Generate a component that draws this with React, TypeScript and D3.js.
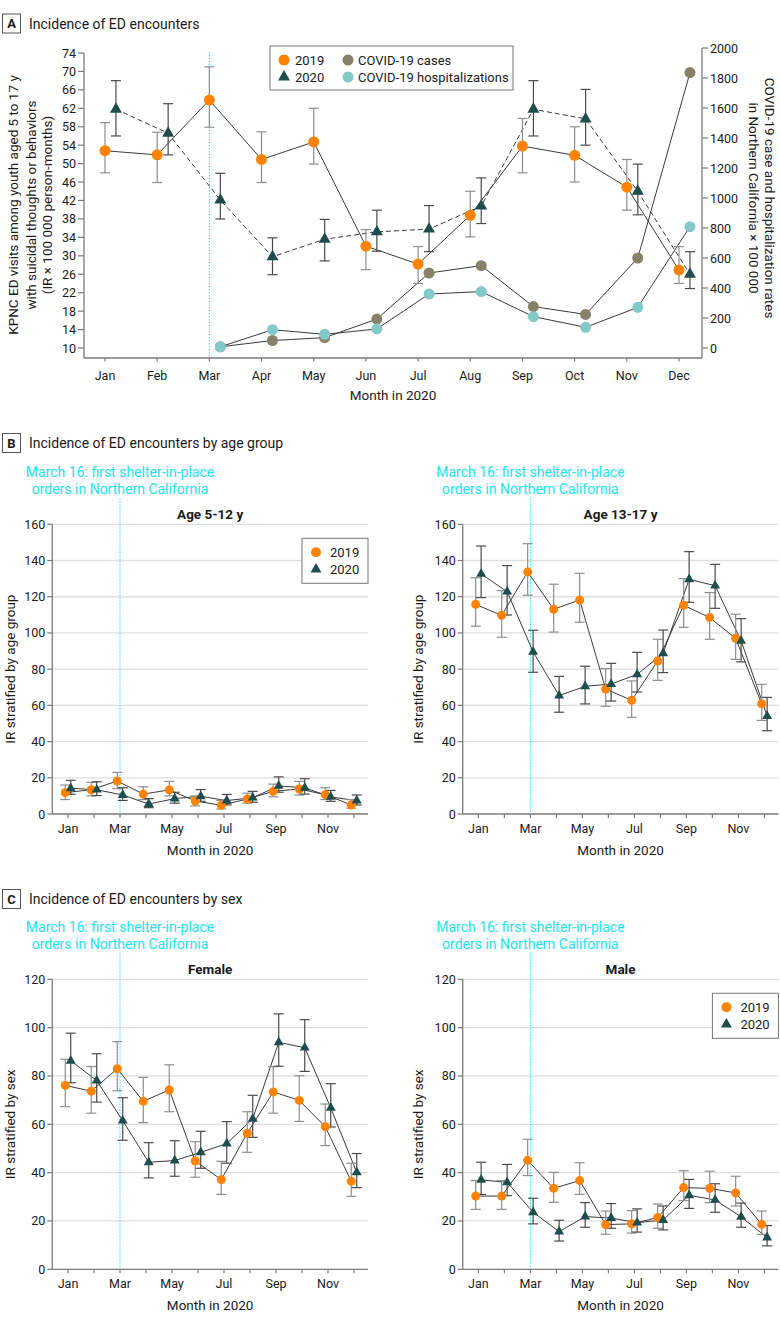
import React from 'react';
import * as d3 from 'd3';

// ---------- DATA ----------
const months = ['Jan', 'Feb', 'Mar', 'Apr', 'May', 'Jun', 'Jul', 'Aug', 'Sep', 'Oct', 'Nov', 'Dec'];
const labeledMonths = ['Jan', 'Mar', 'May', 'Jul', 'Sep', 'Nov'];
const yTicksA = [10, 14, 18, 22, 26, 30, 34, 38, 42, 46, 50, 54, 58, 62, 66, 70, 74];
const yTicksRightA = [0, 200, 400, 600, 800, 1000, 1200, 1400, 1600, 1800, 2000];
const yTicksB = [0, 20, 40, 60, 80, 100, 120, 140, 160];
const yTicksC = [0, 20, 40, 60, 80, 100, 120];

// Panel A: overall incidence
const all2019 = [52.8, 51.9, 63.8, 50.9, 54.7, 32.1, 28.2, 38.8, 53.8, 51.8, 44.9, 26.9];
const all2019Lo = [48.0, 45.9, 57.9, 45.9, 49.9, 27.0, 24.0, 34.1, 48.0, 46.0, 39.9, 24.0];
const all2019Hi = [58.9, 56.8, 71.0, 56.9, 62.0, 35.7, 32.0, 44.0, 59.8, 58.0, 50.9, 32.0];
const all2020 = [61.8, 56.6, 42.1, 29.8, 33.6, 35.2, 35.8, 40.8, 61.8, 59.7, 44.0, 26.0];
const all2020Lo = [56.0, 51.9, 38.0, 25.9, 28.9, 31.0, 30.9, 37.0, 56.0, 54.0, 38.9, 22.9];
const all2020Hi = [68.0, 63.0, 47.9, 33.9, 37.9, 39.9, 40.9, 46.9, 68.0, 66.1, 49.9, 30.9];
const covidMonthIdx = [2, 3, 4, 5, 6, 7, 8, 9, 10, 11];
const covidCases = [8, 50, 69, 193, 500, 549, 276, 224, 600, 1836];
const covidHosp = [8, 122, 91, 127, 360, 376, 209, 138, 271, 809];

// Panel B: age 5-12
const young2019 = [11.8, 13.4, 18.2, 11.0, 13.3, 7.2, 4.8, 8.3, 12.5, 13.8, 10.7, 5.0];
const young2019Lo = [8.0, 10.0, 14.0, 8.0, 10.0, 4.5, 2.8, 6.0, 9.5, 10.5, 8.0, 3.2];
const young2019Hi = [16.0, 17.5, 23.0, 15.0, 18.0, 10.0, 7.5, 11.5, 16.5, 18.0, 14.5, 8.0];
const young2020 = [14.2, 13.4, 10.5, 5.5, 8.5, 9.8, 7.4, 9.0, 15.5, 14.5, 9.4, 7.4];
const young2020Lo = [10.9, 10.2, 7.5, 3.5, 6.0, 7.0, 5.0, 6.5, 12.0, 11.0, 7.0, 5.0];
const young2020Hi = [18.6, 17.8, 14.5, 8.5, 12.0, 13.5, 10.8, 12.5, 20.5, 19.5, 13.0, 10.5];

// Panel B: age 13-17
const teen2019 = [115.8, 109.7, 133.7, 113.1, 118.2, 69.0, 62.8, 84.5, 115.3, 108.5, 97.0, 60.9];
const teen2019Lo = [103.7, 97.6, 120.8, 100.5, 105.9, 59.5, 53.4, 73.8, 103.1, 96.5, 85.4, 51.7];
const teen2019Hi = [130.5, 123.4, 149.3, 126.9, 132.9, 80.3, 73.5, 96.5, 130.0, 122.3, 110.3, 71.6];
const teen2020 = [132.6, 122.8, 89.5, 65.4, 70.5, 71.8, 77.1, 88.7, 129.6, 126.1, 95.6, 54.1];
const teen2020Lo = [119.5, 109.9, 78.3, 56.2, 60.8, 62.4, 67.4, 78.1, 116.9, 113.6, 84.0, 46.0];
const teen2020Hi = [148.0, 137.2, 101.5, 76.0, 81.6, 83.2, 89.3, 101.6, 144.9, 137.9, 107.9, 64.4];

// Panel C: female
const female2019 = [76.1, 73.7, 83.0, 69.5, 74.2, 44.8, 37.1, 56.3, 73.4, 69.9, 59.0, 36.4];
const female2019Lo = [67.3, 64.6, 73.9, 60.7, 65.2, 38.1, 31.0, 48.4, 64.6, 61.2, 51.2, 30.2];
const female2019Hi = [86.9, 83.9, 94.2, 79.4, 84.6, 52.8, 44.7, 65.2, 83.9, 80.1, 68.4, 43.9];
const female2020 = [86.3, 78.1, 61.5, 44.3, 45.0, 48.4, 52.0, 62.3, 93.9, 91.7, 66.8, 40.1];
const female2020Lo = [77.2, 69.2, 53.4, 37.8, 38.5, 41.8, 43.9, 54.6, 84.0, 81.9, 58.9, 33.8];
const female2020Hi = [97.7, 89.2, 71.0, 52.4, 53.2, 57.1, 61.1, 72.0, 105.7, 103.3, 76.8, 47.9];

// Panel C: male
const male2019 = [30.3, 30.3, 45.1, 33.5, 36.7, 18.5, 18.8, 21.4, 33.8, 33.5, 31.6, 18.6];
const male2019Lo = [24.8, 24.8, 38.8, 27.7, 31.0, 14.5, 15.0, 17.0, 28.4, 27.6, 26.2, 14.5];
const male2019Hi = [36.7, 36.7, 53.8, 40.1, 44.1, 24.1, 24.3, 27.0, 40.8, 40.6, 38.5, 24.1];
const male2020 = [37.0, 36.0, 23.6, 15.6, 21.8, 21.2, 19.3, 20.4, 30.6, 28.7, 21.7, 13.1];
const male2020Lo = [31.0, 30.5, 18.8, 11.7, 17.4, 17.0, 15.4, 16.3, 25.2, 23.6, 17.4, 9.7];
const male2020Hi = [44.3, 43.4, 29.4, 20.3, 27.6, 27.2, 25.0, 26.2, 37.2, 35.4, 27.4, 18.1];

// ---------- STYLE ----------
const FONT = 'Roboto, "Liberation Sans", Arial, sans-serif';
const ORANGE = '#ff8300';
const TEAL = '#1f4d4c';
const CASES = '#858269';
const HOSP = '#85c8c9';
const CYAN = '#1ee3f2';
const LINE = '#3a3a3a';
const AXIS = '#7a7a7a';
const GRID = '#dedede';
const ERR19 = '#8e8e8e';
const ERR20 = '#4a4a4a';
const TXT = '#1a1a1a';

const tri = (side: number) => d3.symbol(d3.symbolTriangle, (side * side * Math.sqrt(3)) / 4)() as string;

function ErrBar({ x, y1, y2, color, w = 5 }: { x: number; y1: number; y2: number; color: string; w?: number }) {
  return (
    <g stroke={color} strokeWidth={1.2}>
      <line x1={x} x2={x} y1={y1} y2={y2} />
      <line x1={x - w} x2={x + w} y1={y1} y2={y1} />
      <line x1={x - w} x2={x + w} y1={y2} y2={y2} />
    </g>
  );
}

function Header({ letter, text, y }: { letter: string; text: string; y: number }) {
  return (
    <g fontFamily={FONT}>
      <rect x={2.5} y={y - 9.5} width={18} height={19} fill="white" stroke="#555" strokeWidth={1} />
      <text x={11.5} y={y} textAnchor="middle" dominantBaseline="central" fontSize={13} fontWeight="bold" fill={TXT}>{letter}</text>
      <text x={29} y={y} dominantBaseline="central" fontSize={14} fill={TXT}>{text}</text>
    </g>
  );
}

function PanelA() {
  const x = d3.scaleLinear().domain([0, 11]).range([105, 679]);
  const off = 0.21;
  const yL = d3.scaleLinear().domain([10, 74]).range([348, 53]);
  const yR = d3.scaleLinear().domain([0, 2000]).range([348, 48]);
  const axL = 84, axR = 702, axB = 358;
  const line = d3.line<[number, number]>().x(d => d[0]).y(d => d[1]);
  const p19 = all2019.map((v, i) => [x(i), yL(v)] as [number, number]);
  const p20 = all2020.map((v, i) => [x(i + off), yL(v)] as [number, number]);
  const pc = covidCases.map((v, i) => [x(covidMonthIdx[i] + off), yR(v)] as [number, number]);
  const ph = covidHosp.map((v, i) => [x(covidMonthIdx[i] + off), yR(v)] as [number, number]);
  return (
    <g fontFamily={FONT}>
      <Header letter="A" text="Incidence of ED encounters" y={23.5} />
      <line x1={x(2)} x2={x(2)} y1={52} y2={axB} stroke={CYAN} strokeWidth={1} strokeDasharray="1.5,1.5" />
      <line x1={axL} x2={axL} y1={yL(74)} y2={axB} stroke={AXIS} strokeWidth={1.3} />
      <line x1={axR} x2={axR} y1={yR(2000)} y2={axB} stroke={AXIS} strokeWidth={1.3} />
      <line x1={axL} x2={axR} y1={axB} y2={axB} stroke={AXIS} strokeWidth={1.3} />
      {yTicksA.map(t => (
        <g key={'l' + t}>
          <line x1={axL - 6} x2={axL} y1={yL(t)} y2={yL(t)} stroke={AXIS} strokeWidth={1.2} />
          <text x={axL - 8} y={yL(t)} textAnchor="end" dominantBaseline="central" fontSize={12.5} fill={TXT}>{t}</text>
        </g>
      ))}
      {yTicksRightA.map(t => (
        <g key={'r' + t}>
          <line x1={axR} x2={axR + 6} y1={yR(t)} y2={yR(t)} stroke={AXIS} strokeWidth={1.2} />
          <text x={axR + 8} y={yR(t)} dominantBaseline="central" fontSize={12.5} fill={TXT}>{t}</text>
        </g>
      ))}
      {months.map((m, i) => (
        <g key={m}>
          <line x1={x(i)} x2={x(i)} y1={axB} y2={axB + 3.5} stroke={AXIS} strokeWidth={1.2} />
          <text x={x(i)} y={axB + 17} textAnchor="middle" dominantBaseline="central" fontSize={12.5} fill={TXT}>{m}</text>
        </g>
      ))}
      <text x={(axL + axR) / 2} y={395} textAnchor="middle" dominantBaseline="central" fontSize={13.5} fill={TXT}>Month in 2020</text>
      <g transform={`translate(0,205)`} fontSize={13.5} fill={TXT} textAnchor="middle">
        <text transform="translate(13,0) rotate(-90)" dominantBaseline="central">KPNC ED visits among youth aged 5 to 17 y</text>
        <text transform="translate(30.5,0) rotate(-90)" dominantBaseline="central">with suicidal thoughts or behaviors</text>
        <text transform="translate(47,0) rotate(-90)" dominantBaseline="central">(IR × 100 000 person-months)</text>
      </g>
      <g transform={`translate(0,198)`} fontSize={13.5} fill={TXT} textAnchor="middle">
        <text transform="translate(770,0) rotate(90)" dominantBaseline="central">COVID-19 case and hospitalization rates</text>
        <text transform="translate(753.5,0) rotate(90)" dominantBaseline="central">in Northern California × 100 000</text>
      </g>
      <path d={line(ph) as string} fill="none" stroke={LINE} strokeWidth={1} />
      <path d={line(pc) as string} fill="none" stroke={LINE} strokeWidth={1} />
      <path d={line(p19) as string} fill="none" stroke={LINE} strokeWidth={1} />
      <path d={line(p20) as string} fill="none" stroke={LINE} strokeWidth={1} strokeDasharray="5,3" />
      {all2019.map((v, i) => (
        <ErrBar key={'e19' + i} x={x(i)} y1={yL(all2019Hi[i])} y2={yL(all2019Lo[i])} color={ERR19} />
      ))}
      {all2020.map((v, i) => (
        <ErrBar key={'e20' + i} x={x(i + off)} y1={yL(all2020Hi[i])} y2={yL(all2020Lo[i])} color={ERR20} />
      ))}
      {pc.map((p, i) => <circle key={'c' + i} cx={p[0]} cy={p[1]} r={5.5} fill={CASES} />)}
      {ph.map((p, i) => <circle key={'h' + i} cx={p[0]} cy={p[1]} r={5.5} fill={HOSP} />)}
      {p19.map((p, i) => <circle key={'o' + i} cx={p[0]} cy={p[1]} r={5.5} fill={ORANGE} />)}
      {p20.map((p, i) => <path key={'t' + i} d={tri(12)} transform={`translate(${p[0]},${p[1]})`} fill={TEAL} />)}
      <g>
        <rect x={270} y={46} width={243} height={44} fill="white" stroke="#777" strokeWidth={1} />
        <circle cx={284} cy={60} r={5.5} fill={ORANGE} />
        <text x={295} y={60} dominantBaseline="central" fontSize={13} fill={TXT}>2019</text>
        <path d={tri(12)} transform="translate(284,77)" fill={TEAL} />
        <text x={295} y={77} dominantBaseline="central" fontSize={13} fill={TXT}>2020</text>
        <circle cx={348} cy={60} r={5.5} fill={CASES} />
        <text x={358} y={60} dominantBaseline="central" fontSize={13} fill={TXT}>COVID-19 cases</text>
        <circle cx={348} cy={77} r={5.5} fill={HOSP} />
        <text x={358} y={77} dominantBaseline="central" fontSize={13} fill={TXT}>COVID-19 hospitalizations</text>
      </g>
    </g>
  );
}

interface SubProps {
  x0: number;
  yTop: number;
  yBot: number;
  ticks: number[];
  title: string;
  yTitle: string;
  yTitleX: number;
  d19: number[]; lo19: number[]; hi19: number[];
  d20: number[]; lo20: number[]; hi20: number[];
  legend: boolean;
}

function SubPanel(p: SubProps) {
  const xEnd = p.x0 + 315.7;
  const x = d3.scaleLinear().domain([0, 11]).range([p.x0 + 15.7, p.x0 + 301.7]);
  const y = d3.scaleLinear().domain([0, p.ticks[p.ticks.length - 1]]).range([p.yBot, p.yTop]);
  const off = 0.105;
  const line = d3.line<[number, number]>().x(d => d[0]).y(d => d[1]);
  const p19 = p.d19.map((v, i) => [x(i - off), y(v)] as [number, number]);
  const p20 = p.d20.map((v, i) => [x(i + off), y(v)] as [number, number]);
  const mid = (p.x0 + xEnd) / 2;
  const mx = x(2);
  return (
    <g fontFamily={FONT}>
      <text x={mx} y={p.yTop - 52.6} textAnchor="middle" dominantBaseline="central" fontSize={14} fill={CYAN}>March 16: first shelter-in-place</text>
      <text x={mx} y={p.yTop - 35.3} textAnchor="middle" dominantBaseline="central" fontSize={14} fill={CYAN}>orders in Northern California</text>
      <text x={mid} y={p.yTop - 10} textAnchor="middle" dominantBaseline="central" fontSize={13.5} fontWeight="bold" fill={TXT}>{p.title}</text>
      {p.ticks.filter(t => t > 0).map(t => (
        <line key={'g' + t} x1={p.x0} x2={xEnd} y1={y(t)} y2={y(t)} stroke={GRID} strokeWidth={1.3} />
      ))}
      <line x1={mx} x2={mx} y1={p.yTop - 26} y2={p.yBot} stroke={CYAN} strokeWidth={1} strokeDasharray="1.5,1.5" />
      <line x1={p.x0} x2={p.x0} y1={p.yTop} y2={p.yBot} stroke={AXIS} strokeWidth={1.3} />
      <line x1={p.x0} x2={xEnd} y1={p.yBot} y2={p.yBot} stroke={AXIS} strokeWidth={1.3} />
      {p.ticks.map(t => (
        <g key={'t' + t}>
          <line x1={p.x0 - 5} x2={p.x0} y1={y(t)} y2={y(t)} stroke={AXIS} strokeWidth={1.2} />
          <text x={p.x0 - 7} y={y(t)} textAnchor="end" dominantBaseline="central" fontSize={12.5} fill={TXT}>{t}</text>
        </g>
      ))}
      {months.map((m, i) => (
        <g key={m}>
          <line x1={x(i)} x2={x(i)} y1={p.yBot} y2={p.yBot + 4} stroke={AXIS} strokeWidth={1.2} />
          {labeledMonths.includes(m) && (
            <text x={x(i)} y={p.yBot + 14.5} textAnchor="middle" dominantBaseline="central" fontSize={12.5} fill={TXT}>{m}</text>
          )}
        </g>
      ))}
      <text x={mid} y={p.yBot + 36} textAnchor="middle" dominantBaseline="central" fontSize={13.5} fill={TXT}>Month in 2020</text>
      <text transform={`translate(${p.yTitleX},${(p.yTop + p.yBot) / 2}) rotate(-90)`} textAnchor="middle" dominantBaseline="central" fontSize={13.5} fill={TXT}>{p.yTitle}</text>
      <path d={line(p19) as string} fill="none" stroke={LINE} strokeWidth={1} />
      <path d={line(p20) as string} fill="none" stroke={LINE} strokeWidth={1} />
      {p.d19.map((v, i) => (
        <ErrBar key={'e19' + i} x={x(i - off)} y1={y(p.hi19[i])} y2={y(p.lo19[i])} color={ERR19} />
      ))}
      {p.d20.map((v, i) => (
        <ErrBar key={'e20' + i} x={x(i + off)} y1={y(p.hi20[i])} y2={y(p.lo20[i])} color={ERR20} />
      ))}
      {p19.map((q, i) => <circle key={'o' + i} cx={q[0]} cy={q[1]} r={4.5} fill={ORANGE} />)}
      {p20.map((q, i) => <path key={'tr' + i} d={tri(10)} transform={`translate(${q[0]},${q[1]})`} fill={TEAL} />)}
      {p.legend && (
        <g>
          <rect x={xEnd - 66} y={p.yTop + 14} width={66} height={45} fill="white" stroke="#777" strokeWidth={1} />
          <circle cx={xEnd - 52} cy={p.yTop + 28} r={5} fill={ORANGE} />
          <text x={xEnd - 38} y={p.yTop + 28} dominantBaseline="central" fontSize={13} fill={TXT}>2019</text>
          <path d={tri(11)} transform={`translate(${xEnd - 52},${p.yTop + 45})`} fill={TEAL} />
          <text x={xEnd - 38} y={p.yTop + 45} dominantBaseline="central" fontSize={13} fill={TXT}>2020</text>
        </g>
      )}
    </g>
  );
}

export default function App() {
  return (
    <svg width={780} height={1324} style={{ position: 'absolute', left: 0, top: 0, background: 'white' }}>
      <rect width={780} height={1324} fill="white" />
      <PanelA />
      <Header letter="B" text="Incidence of ED encounters by age group" y={443} />
      <SubPanel x0={52.3} yTop={524.3} yBot={814} ticks={yTicksB} title="Age 5-12 y" yTitle="IR stratified by age group" yTitleX={9.5}
        d19={young2019} lo19={young2019Lo} hi19={young2019Hi} d20={young2020} lo20={young2020Lo} hi20={young2020Hi} legend={true} />
      <SubPanel x0={462.7} yTop={524.3} yBot={814} ticks={yTicksB} title="Age 13-17 y" yTitle="IR stratified by age group" yTitleX={418.3}
        d19={teen2019} lo19={teen2019Lo} hi19={teen2019Hi} d20={teen2020} lo20={teen2020Lo} hi20={teen2020Hi} legend={false} />
      <Header letter="C" text="Incidence of ED encounters by sex" y={899} />
      <SubPanel x0={52.3} yTop={979.3} yBot={1269.3} ticks={yTicksC} title="Female" yTitle="IR stratified by sex" yTitleX={9.5}
        d19={female2019} lo19={female2019Lo} hi19={female2019Hi} d20={female2020} lo20={female2020Lo} hi20={female2020Hi} legend={false} />
      <SubPanel x0={462.7} yTop={979.3} yBot={1269.3} ticks={yTicksC} title="Male" yTitle="IR stratified by sex" yTitleX={418.3}
        d19={male2019} lo19={male2019Lo} hi19={male2019Hi} d20={male2020} lo20={male2020Lo} hi20={male2020Hi} legend={true} />
    </svg>
  );
}
